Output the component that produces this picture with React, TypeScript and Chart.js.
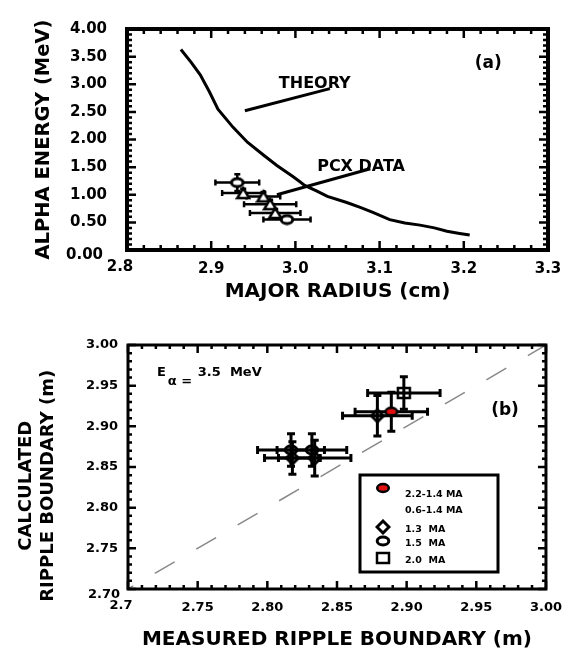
import React, { useEffect, useRef } from 'react';
import { Chart, registerables } from 'chart.js';

Chart.register(...registerables);

const FAMILY = '"DejaVu Sans", "Liberation Sans", sans-serif';

// ---------------- Panel (a) data ----------------
const theoryRadius = [2.864, 2.876, 2.887, 2.898, 2.908, 2.926, 2.943, 2.962, 2.978, 2.997, 3.005, 3.011, 3.025, 3.038, 3.061, 3.077, 3.092, 3.112, 3.130, 3.148, 3.165, 3.180, 3.195, 3.207];
const theoryEnergy = [3.63, 3.40, 3.17, 2.86, 2.55, 2.22, 1.95, 1.72, 1.53, 1.33, 1.24, 1.17, 1.07, 0.97, 0.86, 0.77, 0.68, 0.55, 0.49, 0.45, 0.40, 0.34, 0.30, 0.27];
const theoryPointerR = [2.940, 3.041];
const theoryPointerE = [2.52, 2.92];
const pcxPointerR = [2.978, 3.089];
const pcxPointerE = [1.00, 1.47];
const pcxEllipseR = [2.931, 2.990];
const pcxEllipseE = [1.22, 0.55];
const pcxEllipseRErr = [0.026, 0.028];
const pcxEllipseEErr = [0.15, 0.05];
const pcxTriangleR = [2.938, 2.962, 2.970, 2.976];
const pcxTriangleE = [1.03, 0.97, 0.83, 0.67];
const pcxTriangleRErr = [0.025, 0.020, 0.031, 0.030];
const pcxTriangleEErr = [0.08, 0.08, 0.08, 0.07];
const panelAXTickValues = [2.8, 2.9, 3.0, 3.1, 3.2, 3.3];
const panelAXTickLabels = ['2.8', '2.9', '3.0', '3.1', '3.2', '3.3'];
const panelAYTickValues = [0, 0.5, 1.0, 1.5, 2.0, 2.5, 3.0, 3.5, 4.0];
const panelAYTickLabels = ['0.00', '0.50', '1.00', '1.50', '2.00', '2.50', '3.00', '3.50', '4.00'];

// ---------------- Panel (b) data ----------------
const identityLine = [2.70, 3.00];
const b22Measured = [2.889];
const b22Calculated = [2.918];
const b22MeasuredErr = [0.026];
const b22CalculatedErr = [0.024];
const b13Measured = [2.879, 2.818, 2.834];
const b13Calculated = [2.913, 2.861, 2.861];
const b13MeasuredErr = [0.025, 0.020, 0.026];
const b13CalculatedErr = [0.025, 0.020, 0.022];
const b15Measured = [2.817, 2.832];
const b15Calculated = [2.871, 2.871];
const b15MeasuredErr = [0.024, 0.025];
const b15CalculatedErr = [0.020, 0.020];
const b20Measured = [2.898];
const b20Calculated = [2.941];
const b20MeasuredErr = [0.026];
const b20CalculatedErr = [0.020];
const legendLabels = ['2.2-1.4 MA', '0.6-1.4 MA', '1.3  MA', '1.5  MA', '2.0  MA'];
const legendMarkerKinds = ['ellipseRed', '', 'diamond', 'ellipseOpen', 'square'];
const panelBXTickValues = [2.70, 2.75, 2.80, 2.85, 2.90, 2.95, 3.00];
const panelBXTickLabels = ['2.7', '2.75', '2.80', '2.85', '2.90', '2.95', '3.00'];
const panelBYTickValues = [2.70, 2.75, 2.80, 2.85, 2.90, 2.95, 3.00];
const panelBYTickLabels = ['2.70', '2.75', '2.80', '2.85', '2.90', '2.95', '3.00'];

const pts = (xs: number[], ys: number[]) => xs.map((x, i) => ({ x, y: ys[i] }));

function makeMarker(kind: string): HTMLCanvasElement {
  const c = document.createElement('canvas');
  const ctx = c.getContext('2d')!;
  if (kind === 'ellipseRed' || kind === 'ellipseOpen' || kind === 'ellipseA') {
    c.width = 16; c.height = 12;
    ctx.strokeStyle = '#000';
    ctx.beginPath();
    ctx.ellipse(8, 6, 5.8, 4, 0, 0, Math.PI * 2);
    ctx.fillStyle = kind === 'ellipseRed' ? '#e01010' : '#fff';
    ctx.fill();
    ctx.lineWidth = kind === 'ellipseRed' ? 2.5 : 3;
    ctx.stroke();
  } else if (kind === 'diamond') {
    c.width = 16; c.height = 16;
    ctx.strokeStyle = '#000';
    ctx.beginPath();
    ctx.moveTo(8, 2); ctx.lineTo(14, 8); ctx.lineTo(8, 14); ctx.lineTo(2, 8); ctx.closePath();
    ctx.fillStyle = '#fff'; ctx.fill();
    ctx.lineWidth = 3; ctx.stroke();
  } else if (kind === 'square') {
    c.width = 18; c.height = 16;
    ctx.strokeStyle = '#000';
    ctx.fillStyle = '#fff';
    ctx.fillRect(3, 3, 12, 10);
    ctx.lineWidth = 2.5;
    ctx.strokeRect(3, 3, 12, 10);
  } else if (kind === 'triangle') {
    c.width = 16; c.height = 16;
    ctx.strokeStyle = '#000';
    ctx.beginPath();
    ctx.moveTo(8, 3); ctx.lineTo(14, 13); ctx.lineTo(2, 13); ctx.closePath();
    ctx.fillStyle = '#fff'; ctx.fill();
    ctx.lineWidth = 2.5; ctx.stroke();
  }
  return c;
}

function drawErrorBars(chart: any, onTop: boolean) {
  const { ctx, scales: { x, y } } = chart;
  chart.data.datasets.forEach((ds: any) => {
    if (!ds.errX || !!ds.errOnTop !== onTop) return;
    ctx.save();
    ctx.strokeStyle = '#000';
    ctx.lineWidth = ds.errWidth || 2.5;
    const c = ds.errCap || 3;
    ds.data.forEach((p: any, j: number) => {
      const px = x.getPixelForValue(p.x);
      const py = y.getPixelForValue(p.y);
      const x0 = x.getPixelForValue(p.x - ds.errX[j]);
      const x1 = x.getPixelForValue(p.x + ds.errX[j]);
      const y0 = y.getPixelForValue(p.y - ds.errY[j]);
      const y1 = y.getPixelForValue(p.y + ds.errY[j]);
      ctx.beginPath();
      ctx.moveTo(x0, py); ctx.lineTo(x1, py);
      ctx.moveTo(px, y0); ctx.lineTo(px, y1);
      ctx.moveTo(x0, py - c); ctx.lineTo(x0, py + c);
      ctx.moveTo(x1, py - c); ctx.lineTo(x1, py + c);
      ctx.moveTo(px - c, y0); ctx.lineTo(px + c, y0);
      ctx.moveTo(px - c, y1); ctx.lineTo(px + c, y1);
      ctx.stroke();
    });
    ctx.restore();
  });
}

const errorBarPlugin = {
  id: 'errorBars',
  beforeDatasetsDraw(chart: any) { drawErrorBars(chart, false); },
  afterDatasetsDraw(chart: any) { drawErrorBars(chart, true); },
};

function drawFrame(chart: any, f: any) {
  const { ctx, chartArea: a, scales: { x, y } } = chart;
  ctx.save();
  ctx.strokeStyle = '#000';
  ctx.lineWidth = f.tickWidth;
  const nx = Math.round((x.max - x.min) / f.xMinor);
  for (let i = 0; i <= nx; i++) {
    const v = x.min + i * f.xMinor;
    const len = i % f.xPer === 0 ? f.major : f.minor;
    const px = x.getPixelForValue(v);
    ctx.beginPath();
    ctx.moveTo(px, a.bottom); ctx.lineTo(px, a.bottom - len);
    ctx.moveTo(px, a.top); ctx.lineTo(px, a.top + len);
    ctx.stroke();
  }
  const ny = Math.round((y.max - y.min) / f.yMinor);
  for (let i = 0; i <= ny; i++) {
    const v = y.min + i * f.yMinor;
    const len = i % f.yPer === 0 ? f.major : f.minor;
    const py = y.getPixelForValue(v);
    ctx.beginPath();
    ctx.moveTo(a.left, py); ctx.lineTo(a.left + len, py);
    ctx.moveTo(a.right, py); ctx.lineTo(a.right - len, py);
    ctx.stroke();
  }
  ctx.lineWidth = f.border;
  ctx.strokeRect(a.left, a.top, a.right - a.left, a.bottom - a.top);
  // first tick labels, offset as in the original
  ctx.fillStyle = '#000';
  ctx.font = `bold ${f.tickFont}px ${FAMILY}`;
  ctx.textBaseline = 'middle';
  ctx.textAlign = 'right';
  ctx.fillText(f.yFirst, a.left + f.yFirstDx, a.bottom + f.yFirstDy);
  ctx.textAlign = 'center';
  ctx.fillText(f.xFirst, a.left + f.xFirstDx, a.bottom + f.xFirstDy);
  ctx.restore();
}

function text(ctx: any, s: string, px: number, py: number, size: number, align: string) {
  ctx.font = `bold ${size}px ${FAMILY}`;
  ctx.textAlign = align;
  ctx.textBaseline = 'middle';
  ctx.fillStyle = '#000';
  ctx.fillText(s, px, py);
}

const tickFont = (size: number) => ({ family: FAMILY, size, weight: 'bold' as const });
const PAD = '\u00a0\u00a0\u00a0\u00a0\u00a0\u00a0';

export default function App() {
  const topRef = useRef<HTMLCanvasElement>(null);
  const botRef = useRef<HTMLCanvasElement>(null);

  useEffect(() => {
    const mk: Record<string, HTMLCanvasElement> = {
      ellipseRed: makeMarker('ellipseRed'),
      ellipseOpen: makeMarker('ellipseOpen'),
      ellipseA: makeMarker('ellipseA'),
      diamond: makeMarker('diamond'),
      square: makeMarker('square'),
      triangle: makeMarker('triangle'),
    };

    const framePluginA = {
      id: 'frameA',
      afterDraw(chart: any) {
        drawFrame(chart, {
          tickWidth: 2.5, border: 4, major: 9, minor: 5,
          xMinor: 0.02, xPer: 5, yMinor: 0.1, yPer: 5, tickFont: 15,
          yFirst: panelAYTickLabels[0], yFirstDx: -24, yFirstDy: 5,
          xFirst: panelAXTickLabels[0], xFirstDx: -7, xFirstDy: 17,
        });
        const { ctx, scales: { x, y } } = chart;
        text(ctx, 'THEORY', x.getPixelForValue(3.023), y.getPixelForValue(3.0), 16, 'center');
        text(ctx, 'PCX DATA', x.getPixelForValue(3.078), y.getPixelForValue(1.5), 16, 'center');
        text(ctx, '(a)', x.getPixelForValue(3.229), y.getPixelForValue(3.37), 17, 'center');
      },
    };

    const chartA = new Chart(topRef.current!, {
      type: 'scatter',
      data: {
        datasets: [
          {
            data: pts(pcxEllipseR, pcxEllipseE),
            pointStyle: mk.ellipseA, pointRadius: 6,
            errX: pcxEllipseRErr, errY: pcxEllipseEErr, errWidth: 2.5, errCap: 3,
          } as any,
          {
            data: pts(pcxTriangleR, pcxTriangleE),
            pointStyle: mk.triangle, pointRadius: 6,
            errX: pcxTriangleRErr, errY: pcxTriangleEErr, errWidth: 2.5, errCap: 3,
          } as any,
          {
            data: pts(theoryRadius, theoryEnergy),
            showLine: true, borderColor: '#000', borderWidth: 3, pointRadius: 0, tension: 0,
          },
          {
            data: pts(theoryPointerR, theoryPointerE),
            showLine: true, borderColor: '#000', borderWidth: 3, pointRadius: 0,
          },
          {
            data: pts(pcxPointerR, pcxPointerE),
            showLine: true, borderColor: '#000', borderWidth: 3, pointRadius: 0,
          },
        ],
      },
      options: {
        responsive: false,
        animation: false,
        events: [],
        layout: { padding: { left: 0, top: 10, right: 25, bottom: 0 } },
        plugins: { legend: { display: false }, tooltip: { enabled: false } },
        scales: {
          x: {
            type: 'linear', min: 2.8, max: 3.3,
            afterBuildTicks: (s: any) => { s.ticks = panelAXTickValues.map((v) => ({ value: v })); },
            afterFit: (s: any) => { s.height = 70; },
            border: { display: false },
            grid: { display: false, drawTicks: false },
            ticks: {
              font: tickFont(15), color: '#000', padding: 10, maxRotation: 0, autoSkip: false,
              callback: (_v: any, i: number) => (i === 0 ? '' : panelAXTickLabels[i]),
            },
            title: {
              display: true, text: 'MAJOR RADIUS (cm)', color: '#000',
              font: { family: FAMILY, size: 20, weight: 'bold' }, padding: { top: 0, bottom: 16 },
            },
          },
          y: {
            type: 'linear', min: 0, max: 4,
            afterBuildTicks: (s: any) => { s.ticks = panelAYTickValues.map((v) => ({ value: v })); },
            afterFit: (s: any) => { s.width = 127; },
            border: { display: false },
            grid: { display: false, drawTicks: false },
            ticks: {
              font: tickFont(15), color: '#000', padding: 20, autoSkip: false,
              callback: (_v: any, i: number) => (i === 0 ? '' : panelAYTickLabels[i]),
            },
            title: {
              display: true, text: 'ALPHA ENERGY (MeV)', color: '#000',
              font: { family: FAMILY, size: 19.5, weight: 'bold' }, padding: { top: 32, bottom: 0 },
            },
          },
        },
      } as any,
      plugins: [errorBarPlugin, framePluginA],
    });

    const framePluginB = {
      id: 'frameB',
      afterDraw(chart: any) {
        drawFrame(chart, {
          tickWidth: 2.5, border: 3, major: 8, minor: 4,
          xMinor: 0.01, xPer: 5, yMinor: 0.01, yPer: 5, tickFont: 13,
          yFirst: panelBYTickLabels[0], yFirstDx: -8, yFirstDy: 6,
          xFirst: panelBXTickLabels[0], xFirstDx: -7, xFirstDy: 17,
        });
        const { ctx, chartArea: a, scales: { x, y } } = chart;
        text(ctx, 'E', x.getPixelForValue(2.7208), y.getPixelForValue(2.9656), 13, 'left');
        text(ctx, '\u03b1 =', x.getPixelForValue(2.7286), y.getPixelForValue(2.9545), 13, 'left');
        text(ctx, '3.5  MeV', x.getPixelForValue(2.7501), y.getPixelForValue(2.9656), 13, 'left');
        text(ctx, '(b)', x.getPixelForValue(2.9706), y.getPixelForValue(2.9188), 17, 'center');
        // legend box
        const bx = a.left + 232, by = a.top + 130, bw = 138, bh = 97;
        ctx.save();
        ctx.fillStyle = '#fff';
        ctx.fillRect(bx, by, bw, bh);
        ctx.strokeStyle = '#000';
        ctx.lineWidth = 3;
        ctx.strokeRect(bx, by, bw, bh);
        const textDy = [20, 36, 55, 69, 86];
        const symDy = [13, 0, 52, 66, 83];
        legendLabels.forEach((lab, i) => {
          const kind = legendMarkerKinds[i];
          if (kind) {
            const m = mk[kind];
            ctx.drawImage(m, bx + 23 - m.width / 2, by + symDy[i] - m.height / 2);
          }
          text(ctx, lab, bx + 45, by + textDy[i], 9.5, 'left');
        });
        ctx.restore();
      },
    };

    const chartB = new Chart(botRef.current!, {
      type: 'scatter',
      data: {
        datasets: [
          {
            data: pts(b22Measured, b22Calculated),
            pointStyle: mk.ellipseRed, pointRadius: 6,
            errX: b22MeasuredErr, errY: b22CalculatedErr, errWidth: 3, errCap: 4,
          } as any,
          {
            data: pts(b20Measured, b20Calculated),
            pointStyle: mk.square, pointRadius: 6,
            errX: b20MeasuredErr, errY: b20CalculatedErr, errWidth: 3, errCap: 4, errOnTop: true,
          } as any,
          {
            data: pts(b15Measured, b15Calculated),
            pointStyle: mk.ellipseOpen, pointRadius: 6,
            errX: b15MeasuredErr, errY: b15CalculatedErr, errWidth: 3, errCap: 4, errOnTop: true,
          } as any,
          {
            data: pts(b13Measured, b13Calculated),
            pointStyle: mk.diamond, pointRadius: 6,
            errX: b13MeasuredErr, errY: b13CalculatedErr, errWidth: 3, errCap: 4, errOnTop: true,
          } as any,
          {
            data: pts(identityLine, identityLine),
            showLine: true, borderColor: '#888', borderWidth: 1.5, pointRadius: 0,
            borderDash: [23, 25], borderDashOffset: 17,
          },
        ],
      },
      options: {
        responsive: false,
        animation: false,
        events: [],
        layout: { padding: { left: 0, top: 25, right: 26, bottom: 0 } },
        plugins: { legend: { display: false }, tooltip: { enabled: false } },
        scales: {
          x: {
            type: 'linear', min: 2.7, max: 3.0,
            afterBuildTicks: (s: any) => { s.ticks = panelBXTickValues.map((v) => ({ value: v })); },
            afterFit: (s: any) => { s.height = 67; },
            border: { display: false },
            grid: { display: false, drawTicks: false },
            ticks: {
              font: tickFont(13), color: '#000', padding: 11, maxRotation: 0, autoSkip: false,
              callback: (_v: any, i: number) => (i === 0 ? '' : panelBXTickLabels[i]),
            },
            title: {
              display: true, text: 'MEASURED RIPPLE BOUNDARY (m)', color: '#000',
              font: { family: FAMILY, size: 20, weight: 'bold' }, padding: { top: 0, bottom: 4 },
            },
          },
          y: {
            type: 'linear', min: 2.7, max: 3.0,
            afterBuildTicks: (s: any) => { s.ticks = panelBYTickValues.map((v) => ({ value: v })); },
            afterFit: (s: any) => { s.width = 128; },
            border: { display: false },
            grid: { display: false, drawTicks: false },
            ticks: {
              font: tickFont(13), color: '#000', padding: 10, autoSkip: false,
              callback: (_v: any, i: number) => (i === 0 ? '' : panelBYTickLabels[i]),
            },
            title: {
              display: true, text: ['CALCULATED' + PAD, 'RIPPLE BOUNDARY (m)' + PAD], color: '#000',
              font: { family: FAMILY, size: 18, weight: 'bold' }, padding: { top: 16, bottom: 0 },
            },
          },
        },
      } as any,
      plugins: [errorBarPlugin, framePluginB],
    });

    return () => {
      chartA.destroy();
      chartB.destroy();
    };
  }, []);

  return (
    <div style={{ position: 'absolute', left: 0, top: 0, width: 573, height: 656, background: '#fff' }}>
      <canvas ref={topRef} width={573} height={320} style={{ position: 'absolute', left: 0, top: 0 }} />
      <canvas ref={botRef} width={573} height={336} style={{ position: 'absolute', left: 0, top: 320 }} />
    </div>
  );
}
